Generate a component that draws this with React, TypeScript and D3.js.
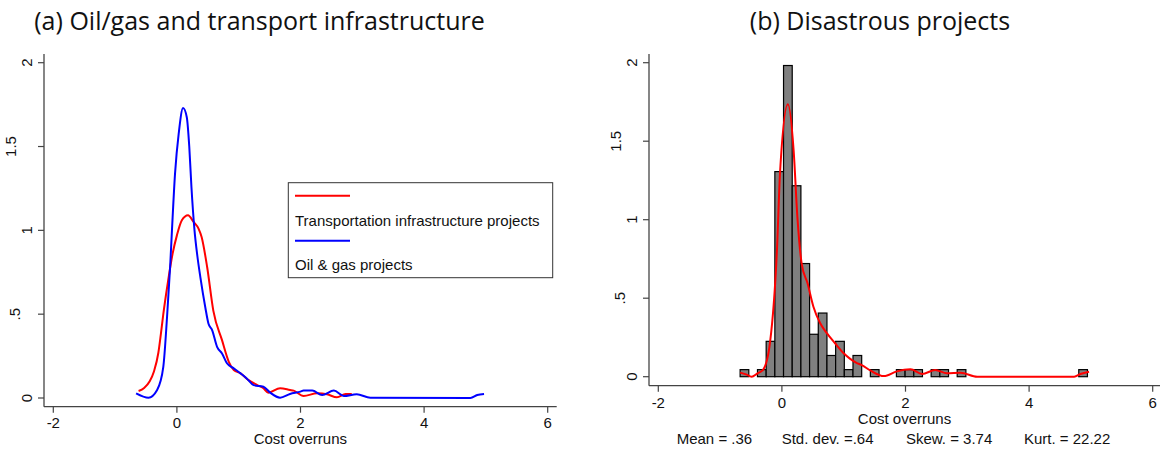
import React from "react";
import * as d3 from "d3";

// ---------- data ----------
const xTicks = [-2, 0, 2, 4, 6];
const yTicks = [0, 0.5, 1, 1.5, 2];
const yTickLabels = ["0", ".5", "1", "1.5", "2"];

const transportCurve: [number, number][] = [
  [-0.62, 0.042], [-0.53, 0.06], [-0.44, 0.1], [-0.37, 0.16], [-0.3, 0.27],
  [-0.26, 0.38], [-0.22, 0.5], [-0.15, 0.68], [-0.07, 0.86], [0.0, 0.97],
  [0.08, 1.06], [0.18, 1.09], [0.27, 1.05], [0.35, 1.01], [0.4, 0.96],
  [0.49, 0.78], [0.59, 0.52], [0.73, 0.345], [0.84, 0.216], [0.92, 0.167],
  [1.03, 0.147], [1.16, 0.107], [1.3, 0.077], [1.4, 0.058], [1.48, 0.032],
  [1.67, 0.058], [1.83, 0.048], [1.89, 0.044], [2.05, 0.012], [2.27, 0.028],
  [2.43, 0.022], [2.59, 0.004], [2.73, 0.024], [2.83, 0.024],
];

const oilGasCurve: [number, number][] = [
  [-0.66, 0.028], [-0.46, 0.002], [-0.32, 0.048], [-0.22, 0.186], [-0.16, 0.48],
  [-0.11, 0.78], [-0.08, 1.0], [-0.03, 1.34], [0.03, 1.58], [0.1, 1.73],
  [0.16, 1.675], [0.2, 1.5], [0.235, 1.26], [0.285, 1.0], [0.33, 0.85],
  [0.38, 0.72], [0.46, 0.54], [0.51, 0.445], [0.57, 0.405], [0.65, 0.305],
  [0.73, 0.266], [0.81, 0.207], [0.92, 0.177], [1.03, 0.147], [1.13, 0.117],
  [1.24, 0.077], [1.4, 0.067], [1.51, 0.032], [1.67, 0.002], [1.83, 0.024],
  [2.0, 0.038], [2.05, 0.044], [2.19, 0.044], [2.35, 0.018], [2.54, 0.044],
  [2.7, 0.012], [2.91, 0.022], [3.13, 0.002], [4.75, 0.0], [4.86, 0.018],
  [4.97, 0.024],
];

const disasterCounts = [
  1, 0, 1, 5, 29, 44, 27, 16, 6, 9,
  3, 5, 1, 3, 0, 1, 0, 0, 1, 1,
  1, 0, 1, 1, 0, 1, 0, 0, 0, 0,
  0, 0, 0, 0, 0, 0, 0, 0, 0, 1,
];
const binStart = -0.676;
const binWidth = 0.1405;

const disasterKde: [number, number][] = [
  [-0.676, 0.026], [-0.58, 0.015], [-0.49, 0.0], [-0.4, 0.02], [-0.3, 0.047],
  [-0.19, 0.225], [-0.08, 0.806], [-0.03, 1.3], [0.097, 1.735], [0.19, 1.44],
  [0.25, 1.02], [0.32, 0.72], [0.415, 0.595], [0.51, 0.446], [0.62, 0.34],
  [0.73, 0.276], [0.86, 0.213], [1.0, 0.149], [1.1, 0.115], [1.2, 0.09],
  [1.3, 0.072], [1.43, 0.04], [1.65, 0.004], [1.86, 0.034], [2.08, 0.047],
  [2.27, 0.017], [2.48, 0.043], [2.67, 0.022], [2.89, 0.025], [3.16, 0.0],
  [4.73, 0.0], [4.83, 0.017], [4.97, 0.032],
];

const statsLabels = ["Mean = .36", "Std. dev. =.64", "Skew. = 3.74", "Kurt. = 22.22"];
const legendLabels = ["Transportation infrastructure projects", "Oil & gas projects"];

// ---------- layout ----------
const AX = "Liberation Sans, Arial, sans-serif";
const TITLE_FONT = "'Open Sans', Lato, sans-serif";
const axisColor = "#444";
const yLabelOffset: Record<number, number> = { 1: 17, 2: 29, 3: 33 };

function Axes({ x, y, axisX, axisY, yTop, xRight, tickLabelY, titleY }: any) {
  return (
    <g>
      <line x1={axisX} x2={axisX} y1={yTop} y2={axisY} stroke={axisColor} strokeWidth={1.3} />
      <line x1={axisX} x2={xRight} y1={axisY} y2={axisY} stroke={axisColor} strokeWidth={1.3} />
      {yTicks.map((t, i) => {
        const yy = y(t);
        const lx = axisX - yLabelOffset[yTickLabels[i].length];
        return (
          <g key={"y" + i}>
            <line x1={axisX - 6} x2={axisX} y1={yy} y2={yy} stroke={axisColor} strokeWidth={1.2} />
            <text
              x={lx}
              y={yy}
              dy="0.35em"
              transform={`rotate(-90, ${lx}, ${yy})`}
              textAnchor="middle"
              fontFamily={AX}
              fontSize={15}
              fill="#111"
            >
              {yTickLabels[i]}
            </text>
          </g>
        );
      })}
      {xTicks.map((t, i) => {
        const xx = x(t);
        return (
          <g key={"x" + i}>
            <line x1={xx} x2={xx} y1={axisY} y2={axisY + 6} stroke={axisColor} strokeWidth={1.2} />
            <text x={xx} y={tickLabelY} textAnchor="middle" fontFamily={AX} fontSize={15} fill="#111">
              {String(t)}
            </text>
          </g>
        );
      })}
      <text x={(axisX + xRight) / 2} y={titleY} textAnchor="middle" fontFamily={AX} fontSize={15} fill="#111">
        Cost overruns
      </text>
    </g>
  );
}

export default function App() {
  const W = 1164;
  const H = 450;

  const xL = d3.scaleLinear().domain([-2, 6]).range([53.3, 547.7]);
  const yL = d3.scaleLinear().domain([0, 2]).range([398, 62.7]);
  const xR = d3.scaleLinear().domain([-2, 6]).range([658.3, 1152.7]);
  const yR = d3.scaleLinear().domain([0, 2]).range([376.7, 62.7]);

  const lineL = d3
    .line<[number, number]>()
    .x((d) => xL(d[0]))
    .y((d) => yL(d[1]))
    .curve(d3.curveMonotoneX);
  const lineR = d3
    .line<[number, number]>()
    .x((d) => xR(d[0]))
    .y((d) => yR(d[1]))
    .curve(d3.curveMonotoneX);

  const n = d3.sum(disasterCounts);

  return (
    <svg width={W} height={H} style={{ display: "block", position: "absolute", left: 0, top: 0, background: "#fff" }}>
      <rect x={0} y={0} width={W} height={H} fill="#fff" />
      <text x={259.5} y={30} textAnchor="middle" fontFamily={TITLE_FONT} fontSize={25} fill="#111">
        (a) Oil/gas and transport infrastructure
      </text>
      <text x={880} y={30} textAnchor="middle" fontFamily={TITLE_FONT} fontSize={25} fill="#111">
        (b) Disastrous projects
      </text>

      {/* Left panel */}
      <Axes x={xL} y={yL} axisX={44} axisY={406.7} yTop={54} xRight={556.7} tickLabelY={428} titleY={444} />
      <path d={lineL(transportCurve) || ""} fill="none" stroke="#ff0000" strokeWidth={2} strokeLinejoin="round" />
      <path d={lineL(oilGasCurve) || ""} fill="none" stroke="#0000ff" strokeWidth={2} strokeLinejoin="round" />

      {/* Legend */}
      <rect x={288.3} y={182.7} width={264.4} height={95} fill="#fff" stroke="#333" strokeWidth={1} />
      <line x1={295} x2={350} y1={195.7} y2={195.7} stroke="#ff0000" strokeWidth={2} />
      <text x={295} y={226} fontFamily={AX} fontSize={15} fill="#111">{legendLabels[0]}</text>
      <line x1={295} x2={350} y1={240.7} y2={240.7} stroke="#0000ff" strokeWidth={2} />
      <text x={295} y={270} fontFamily={AX} fontSize={15} fill="#111">{legendLabels[1]}</text>

      {/* Right panel */}
      <Axes x={xR} y={yR} axisX={649} axisY={385.7} yTop={54} xRight={1160} tickLabelY={408} titleY={424} />
      {disasterCounts.map((c, i) => {
        if (c === 0) return null;
        const x0 = binStart + i * binWidth;
        const dens = c / (n * binWidth);
        return (
          <rect
            key={"b" + i}
            x={xR(x0)}
            y={yR(dens)}
            width={xR(x0 + binWidth) - xR(x0)}
            height={yR(0) - yR(dens)}
            fill="#808080"
            stroke="#000"
            strokeWidth={1.2}
          />
        );
      })}
      <path d={lineR(disasterKde) || ""} fill="none" stroke="#ff0000" strokeWidth={2} strokeLinejoin="round" />

      {statsLabels.map((s, i) => (
        <text key={"s" + i} x={[676.7, 781.7, 906, 1024][i]} y={444} fontFamily={AX} fontSize={15} fill="#111">
          {s}
        </text>
      ))}
    </svg>
  );
}
